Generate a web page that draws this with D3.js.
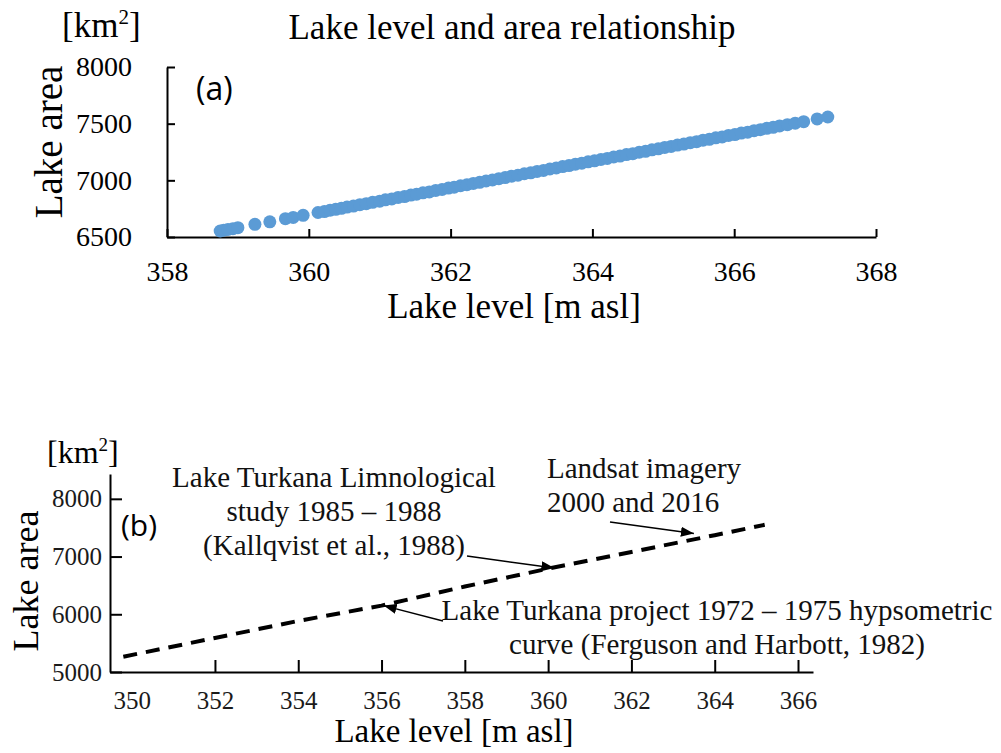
<!DOCTYPE html>
<html>
<head>
<meta charset="utf-8">
<title>Lake level and area relationship</title>
<script src="https://d3js.org/d3.v7.min.js" charset="utf-8"></script>
<style>
  html, body { margin: 0; padding: 0; background: #fff; }
  svg { display: block; }
  .serif { font-family: "Liberation Serif", "Times New Roman", serif; }
  .sans { font-family: "Open Sans", "Liberation Sans", sans-serif; }
</style>
</head>
<body>
<div id="chart"></div>
<script>
// panel (a) - satellite derived level/area pairs
const levelA = [358.75, 358.80, 358.86, 358.93, 359.00, 359.24, 359.45, 359.67, 359.78, 359.92,
  360.13, 360.22, 360.30, 360.38, 360.46, 360.54, 360.63, 360.72, 360.81, 360.90,
  361.00, 361.08, 361.17, 361.26, 361.35, 361.44, 361.52, 361.61, 361.70, 361.79,
  361.88, 361.97, 362.05, 362.14, 362.23, 362.32, 362.41, 362.50, 362.59, 362.68,
  362.77, 362.86, 362.95, 363.04, 363.13, 363.22, 363.31, 363.40, 363.49, 363.58,
  363.67, 363.76, 363.85, 363.94, 364.03, 364.12, 364.21, 364.30, 364.39, 364.48,
  364.57, 364.66, 364.75, 364.84, 364.93, 365.02, 365.11, 365.20, 365.29, 365.38,
  365.47, 365.56, 365.65, 365.74, 365.83, 365.92, 366.01, 366.10, 366.19, 366.28,
  366.37, 366.46, 366.55, 366.64, 366.75, 366.86, 366.98, 367.17, 367.32];
const areaA = [6553, 6560, 6566, 6573, 6582, 6612, 6634, 6662, 6673, 6691,
  6716, 6724, 6736, 6744, 6753, 6764, 6773, 6785, 6794, 6806,
  6816, 6828, 6836, 6849, 6857, 6870, 6877, 6890, 6898, 6911,
  6919, 6932, 6939, 6952, 6961, 6973, 6982, 6994, 7003, 7015,
  7024, 7037, 7045, 7058, 7066, 7079, 7087, 7100, 7109, 7121,
  7130, 7142, 7151, 7163, 7172, 7184, 7193, 7206, 7214, 7227,
  7235, 7248, 7256, 7269, 7278, 7290, 7299, 7311, 7320, 7332,
  7341, 7354, 7362, 7375, 7383, 7396, 7404, 7417, 7425, 7438,
  7447, 7459, 7468, 7480, 7491, 7504, 7518, 7542, 7559];
const xTicksA = [358, 360, 362, 364, 366, 368];
const yTicksA = [6500, 7000, 7500, 8000];

// panel (b) - hypsometric curve
const levelB = [349.8, 352, 354, 356, 358, 360, 362, 364, 365.2];
const areaB = [5265, 5590, 5885, 6150, 6480, 6790, 7080, 7370, 7550];
const xTicksB = [350, 352, 354, 356, 358, 360, 362, 364, 366];
const yTicksB = [5000, 6000, 7000, 8000];

// annotations: text lines, and where the arrow points (data units)
const notes = [
  { lines: ["Lake Turkana Limnological", "study 1985 \u2013 1988", "(Kallqvist et al., 1988)"],
    tx: 334, ty: 487, anchor: "middle", from: [467, 556], level: 360.15, area: 6800 },
  { lines: ["Landsat imagery", "2000 and 2016"],
    tx: 547, ty: 478, anchor: "start", from: [610, 522], level: 363.5, area: 7400 },
  { lines: ["Lake Turkana project 1972 \u2013 1975 hypsometric", "curve (Ferguson and Harbott, 1982)"],
    tx: 717, ty: 620, anchor: "middle", from: [443, 621], level: 356.05, area: 6150 }
];

const width = 1001, height = 753;

const svg = d3.select("#chart").append("svg")
  .attr("width", width)
  .attr("height", height);

svg.append("defs").append("marker")
  .attr("id", "head")
  .attr("viewBox", "0 0 13 10")
  .attr("refX", 13).attr("refY", 5)
  .attr("markerWidth", 13).attr("markerHeight", 10)
  .attr("markerUnits", "userSpaceOnUse")
  .attr("orient", "auto")
  .append("path")
  .attr("d", "M0,0 L13,5 L0,10 Z")
  .attr("fill", "#000");

function styleAxis(g, fontSize, color) {
  g.select(".domain").attr("stroke", "#000").attr("stroke-width", 2);
  g.selectAll(".tick line").attr("stroke", "#000").attr("stroke-width", 2);
  g.selectAll(".tick text")
    .attr("class", "serif")
    .attr("font-size", fontSize)
    .attr("fill", color);
  g.attr("font-family", null);
}

// ---------- panel (a) ----------
const xA = d3.scaleLinear().domain([358, 368]).range([167, 876]);
const yA = d3.scaleLinear().domain([6500, 8000]).range([237, 67]);

svg.append("g")
  .attr("transform", "translate(0,237)")
  .call(d3.axisBottom(xA).tickValues(xTicksA).tickSizeInner(-8).tickSizeOuter(0)
    .tickPadding(24).tickFormat(d3.format("d")))
  .call(g => styleAxis(g, 28, "#000"));

svg.append("g")
  .attr("transform", "translate(167,0)")
  .call(d3.axisLeft(yA).tickValues(yTicksA).tickSizeInner(-8).tickSizeOuter(0)
    .tickPadding(35).tickFormat(d3.format("d")))
  .call(g => styleAxis(g, 28, "#000"));

svg.append("g")
  .selectAll("circle")
  .data(levelA.map((d, i) => [d, areaA[i]]))
  .join("circle")
  .attr("cx", d => xA(d[0]))
  .attr("cy", d => yA(d[1]))
  .attr("r", 6.5)
  .attr("fill", "#5B9BD5");

svg.append("text").attr("class", "serif")
  .attr("x", 512).attr("y", 39)
  .attr("text-anchor", "middle").attr("font-size", 35)
  .text("Lake level and area relationship");

svg.append("text").attr("class", "serif")
  .attr("x", 62).attr("y", 37).attr("font-size", 35)
  .call(t => {
    t.append("tspan").text("[km");
    t.append("tspan").attr("font-size", 21).attr("dy", -13).text("2");
    t.append("tspan").attr("dy", 13).text("]");
  });

svg.append("text").attr("class", "serif")
  .attr("transform", "translate(62,142) rotate(-90)")
  .attr("text-anchor", "middle").attr("font-size", 39)
  .text("Lake area");

svg.append("text").attr("class", "serif")
  .attr("x", 514).attr("y", 318)
  .attr("text-anchor", "middle").attr("font-size", 35)
  .text("Lake level [m asl]");

svg.append("text").attr("class", "sans")
  .attr("x", 196).attr("y", 100).attr("font-size", 32)
  .text("(a)");

// ---------- panel (b) ----------
const xB = d3.scaleLinear().domain([349.48, 366.36]).range([110, 813]);
const yB = d3.scaleLinear().domain([5000, 8430]).range([672, 474]);

svg.append("g")
  .attr("transform", "translate(0,672)")
  .call(d3.axisBottom(xB).tickValues(xTicksB).tickSizeInner(-12).tickSizeOuter(0)
    .tickPadding(19).tickFormat(d3.format("d")))
  .call(g => styleAxis(g, 25, "#1a1a1a"))
  .call(g => g.selectAll(".tick line").filter(d => d === 350).remove());

svg.append("g")
  .attr("transform", "translate(110,0)")
  .call(d3.axisLeft(yB).tickValues(yTicksB).tickSizeInner(-12).tickSizeOuter(0)
    .tickPadding(8).tickFormat(d3.format("d")))
  .call(g => styleAxis(g, 25, "#1a1a1a"));

const lineB = d3.line()
  .x(d => xB(d[0]))
  .y(d => yB(d[1]));

svg.append("path")
  .datum(levelB.map((d, i) => [d, areaB[i]]))
  .attr("d", lineB)
  .attr("fill", "none")
  .attr("stroke", "#000")
  .attr("stroke-width", 4)
  .attr("stroke-dasharray", "14,9");

const noteG = svg.append("g");
notes.forEach(n => {
  const t = noteG.append("text").attr("class", "serif")
    .attr("font-size", 29).attr("fill", "#111")
    .attr("text-anchor", n.anchor);
  n.lines.forEach((line, i) => {
    t.append("tspan").attr("x", n.tx).attr("y", n.ty + i * 34).text(line);
  });
  noteG.append("line")
    .attr("x1", n.from[0]).attr("y1", n.from[1])
    .attr("x2", xB(n.level)).attr("y2", yB(n.area))
    .attr("stroke", "#000").attr("stroke-width", 1.5)
    .attr("marker-end", "url(#head)");
});

svg.append("text").attr("class", "serif")
  .attr("x", 47).attr("y", 463).attr("font-size", 32)
  .call(t => {
    t.append("tspan").text("[km");
    t.append("tspan").attr("font-size", 19).attr("dy", -12).text("2");
    t.append("tspan").attr("dy", 12).text("]");
  });

svg.append("text").attr("class", "serif")
  .attr("transform", "translate(38,581) rotate(-90)")
  .attr("text-anchor", "middle").attr("font-size", 36)
  .text("Lake area");

svg.append("text").attr("class", "serif")
  .attr("x", 454).attr("y", 742)
  .attr("text-anchor", "middle").attr("font-size", 33)
  .text("Lake level [m asl]");

svg.append("text").attr("class", "sans")
  .attr("x", 121).attr("y", 536).attr("font-size", 30)
  .text("(b)");
</script>
</body>
</html>
